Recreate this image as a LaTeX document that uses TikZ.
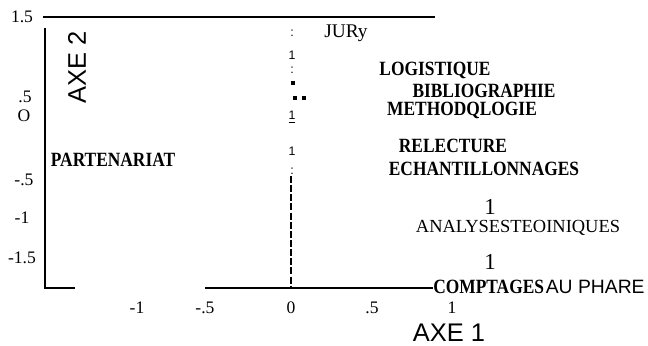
\documentclass[tikz,border=0pt]{standalone}
\usepackage{fontspec}
\setmainfont{Liberation Serif}
\setsansfont{Liberation Sans}
\usepackage{graphicx}

\newcommand{\narrow}[1]{\scalebox{0.86}[1]{#1}}

\tikzset{
  ticklbl/.style={font=\fontsize{10}{10}\selectfont, inner sep=0pt},
  factor/.style={font=\fontsize{11.5}{11.5}\selectfont\bfseries, inner sep=0pt},
  axename/.style={font=\sffamily\fontsize{14.5}{14.5}\selectfont, inner sep=0pt},
  smallone/.style={font=\sffamily\fontsize{7}{7}\selectfont, inner sep=0pt},
  dot/.style={fill=black, minimum size=2.2pt, inner sep=0pt},
}

\begin{document}
\begin{tikzpicture}[x=0.02cm, y=-0.02cm]
    \useasboundingbox (0,0) rectangle (648,345);

    % Frame of the plane
    \draw[thick] (43,17) -- (435,17);
    \draw[very thick] (45,28) -- (45,288) -- (75,288);
    \draw[thick] (205,288) -- (433,288);

    % Axis 2 through the origin
    \draw[very thick, dash pattern=on 4pt off 1.2pt] (291,176) -- (291,288);
    \node[smallone] (c1) at (292,33) {:};
    \node[smallone] (o1) at (292,55) {1};
    \node[smallone] (c2) at (292,70) {:};
    \node[dot] (d1) at (293,83) {};
    \node[dot] (d2) at (295,98) {};
    \node[dot] (d3) at (304,98) {};
    \node[smallone] (o2) at (292,117) {\underline{1}};
    \node[smallone] (o3) at (292,151) {1};
    \node[smallone] (c3) at (292,171) {:};

    % Tick labels, axis 2
    \node[ticklbl] (y15) at (22,17) {1.5};
    \node[ticklbl] (y05) at (25,97) {.5};
    \node[ticklbl] (y0) at (24,116) {O};
    \node[ticklbl] (ym05) at (24,180) {-.5};
    \node[ticklbl] (ym1) at (22,218) {-1};
    \node[ticklbl] (ym15) at (22,258) {-1.5};

    % Tick labels, axis 1
    \node[ticklbl] (xm1) at (137,308) {-1};
    \node[ticklbl] (xm05) at (205,308) {-.5};
    \node[ticklbl] (x0) at (291,308) {0};
    \node[ticklbl] (x05) at (372,308) {.5};
    \node[ticklbl] (x1) at (452,308) {1};

    % Axis names
    \node[axename, rotate=90] (axe2) at (77,67) {AXE 2};
    \node[axename] (axe1) at (449,333) {AXE 1};

    % Modalities
    \node[font=\fontsize{11}{11}\selectfont, inner sep=0pt] (jury) at (346,33) {JURy};
    \node[factor] (logi) at (435,70) {\narrow{LOGISTIQUE}};
    \node[factor] (biblio) at (484,91) {\narrow{BIBLIOGRAPHIE}};
    \node[factor] (metho) at (462,110) {\narrow{METHODQLOGIE}};
    \node[factor] (partn) at (113,160) {\narrow{PARTENARIAT}};
    \node[factor] (relect) at (453,146) {\narrow{RELECTURE}};
    \node[factor] (echant) at (484,169) {\narrow{ECHANTILLONNAGES}};
    \node[font=\fontsize{13}{13}\selectfont, inner sep=0pt] (one1) at (490,207) {1};
    \node[font=\fontsize{10.5}{10.5}\selectfont, inner sep=0pt] (analy) at (518,228) {ANALYSESTEOINIQUES};
    \node[font=\fontsize{13}{13}\selectfont, inner sep=0pt] (one2) at (490,262) {1};
    \node[factor, anchor=west] (compt) at (433,287) {\narrow{COMPTAGES}};
    \node[font=\sffamily\fontsize{11}{11}\selectfont, inner sep=0pt, anchor=east] (phare) at (645,287) {AU PHARE};
\end{tikzpicture}
\end{document}
